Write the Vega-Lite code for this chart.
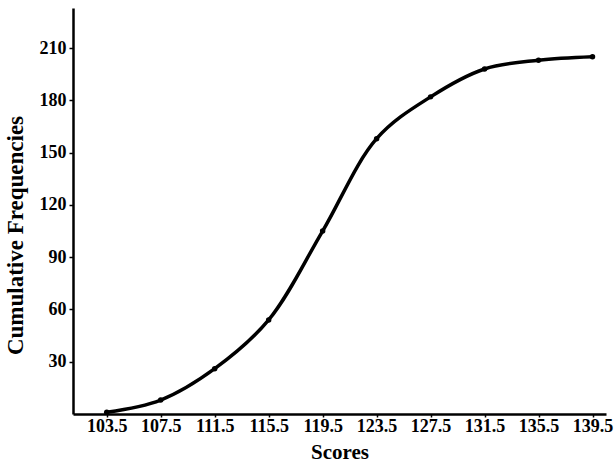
{
  "$schema": "https://vega.github.io/schema/vega-lite/v6.json",
  "width": 533,
  "height": 406,
  "autosize": {"type": "none"},
  "padding": {"left": 73, "top": 8, "right": 8, "bottom": 52},
  "background": "white",
  "config": {
    "view": {"stroke": null},
    "font": "Liberation Serif"
  },
  "data": {
    "values": [
      {"score": 103.5, "cf": 1},
      {"score": 107.5, "cf": 8},
      {"score": 111.5, "cf": 26},
      {"score": 115.5, "cf": 54},
      {"score": 119.5, "cf": 105},
      {"score": 123.5, "cf": 158},
      {"score": 127.5, "cf": 182},
      {"score": 131.5, "cf": 198},
      {"score": 135.5, "cf": 203},
      {"score": 139.5, "cf": 205}
    ]
  },
  "encoding": {
    "x": {
      "field": "score",
      "type": "quantitative",
      "scale": {"domain": [101, 140.5], "nice": false, "zero": false},
      "axis": {
        "title": "Scores",
        "values": [103.5, 107.5, 111.5, 115.5, 119.5, 123.5, 127.5, 131.5, 135.5, 139.5],
        "format": ".1f",
        "grid": false,
        "domainColor": "black",
        "domainWidth": 2.5,
        "tickColor": "black",
        "tickWidth": 1.5,
        "tickSize": 3,
        "labelPadding": 0,
        "labelFont": "Liberation Serif",
        "labelFontWeight": "bold",
        "labelFontSize": 18,
        "labelColor": "black",
        "titleFont": "Liberation Serif",
        "titleFontWeight": "bold",
        "titleFontSize": 21,
        "titleColor": "black",
        "titlePadding": 6
      }
    },
    "y": {
      "field": "cf",
      "type": "quantitative",
      "scale": {"domain": [0, 233], "nice": false},
      "axis": {
        "title": "Cumulative Frequencies",
        "values": [30, 60, 90, 120, 150, 180, 210],
        "grid": false,
        "domainColor": "black",
        "domainWidth": 2.5,
        "tickColor": "black",
        "tickWidth": 1.5,
        "tickSize": 4,
        "labelPadding": 3,
        "labelFont": "Liberation Serif",
        "labelFontWeight": "bold",
        "labelFontSize": 18,
        "labelColor": "black",
        "titleFont": "Liberation Serif",
        "titleFontWeight": "bold",
        "titleFontSize": 23,
        "titleColor": "black",
        "titleAngle": -90,
        "titleAlign": "center",
        "titleBaseline": "alphabetic",
        "titleX": -51,
        "titleY": 227
      }
    }
  },
  "layer": [
    {
      "mark": {"type": "line", "interpolate": "catmull-rom", "color": "black", "strokeWidth": 3.5, "strokeCap": "round"}
    },
    {
      "mark": {"type": "point", "filled": true, "color": "black", "size": 30, "opacity": 1}
    }
  ]
}
